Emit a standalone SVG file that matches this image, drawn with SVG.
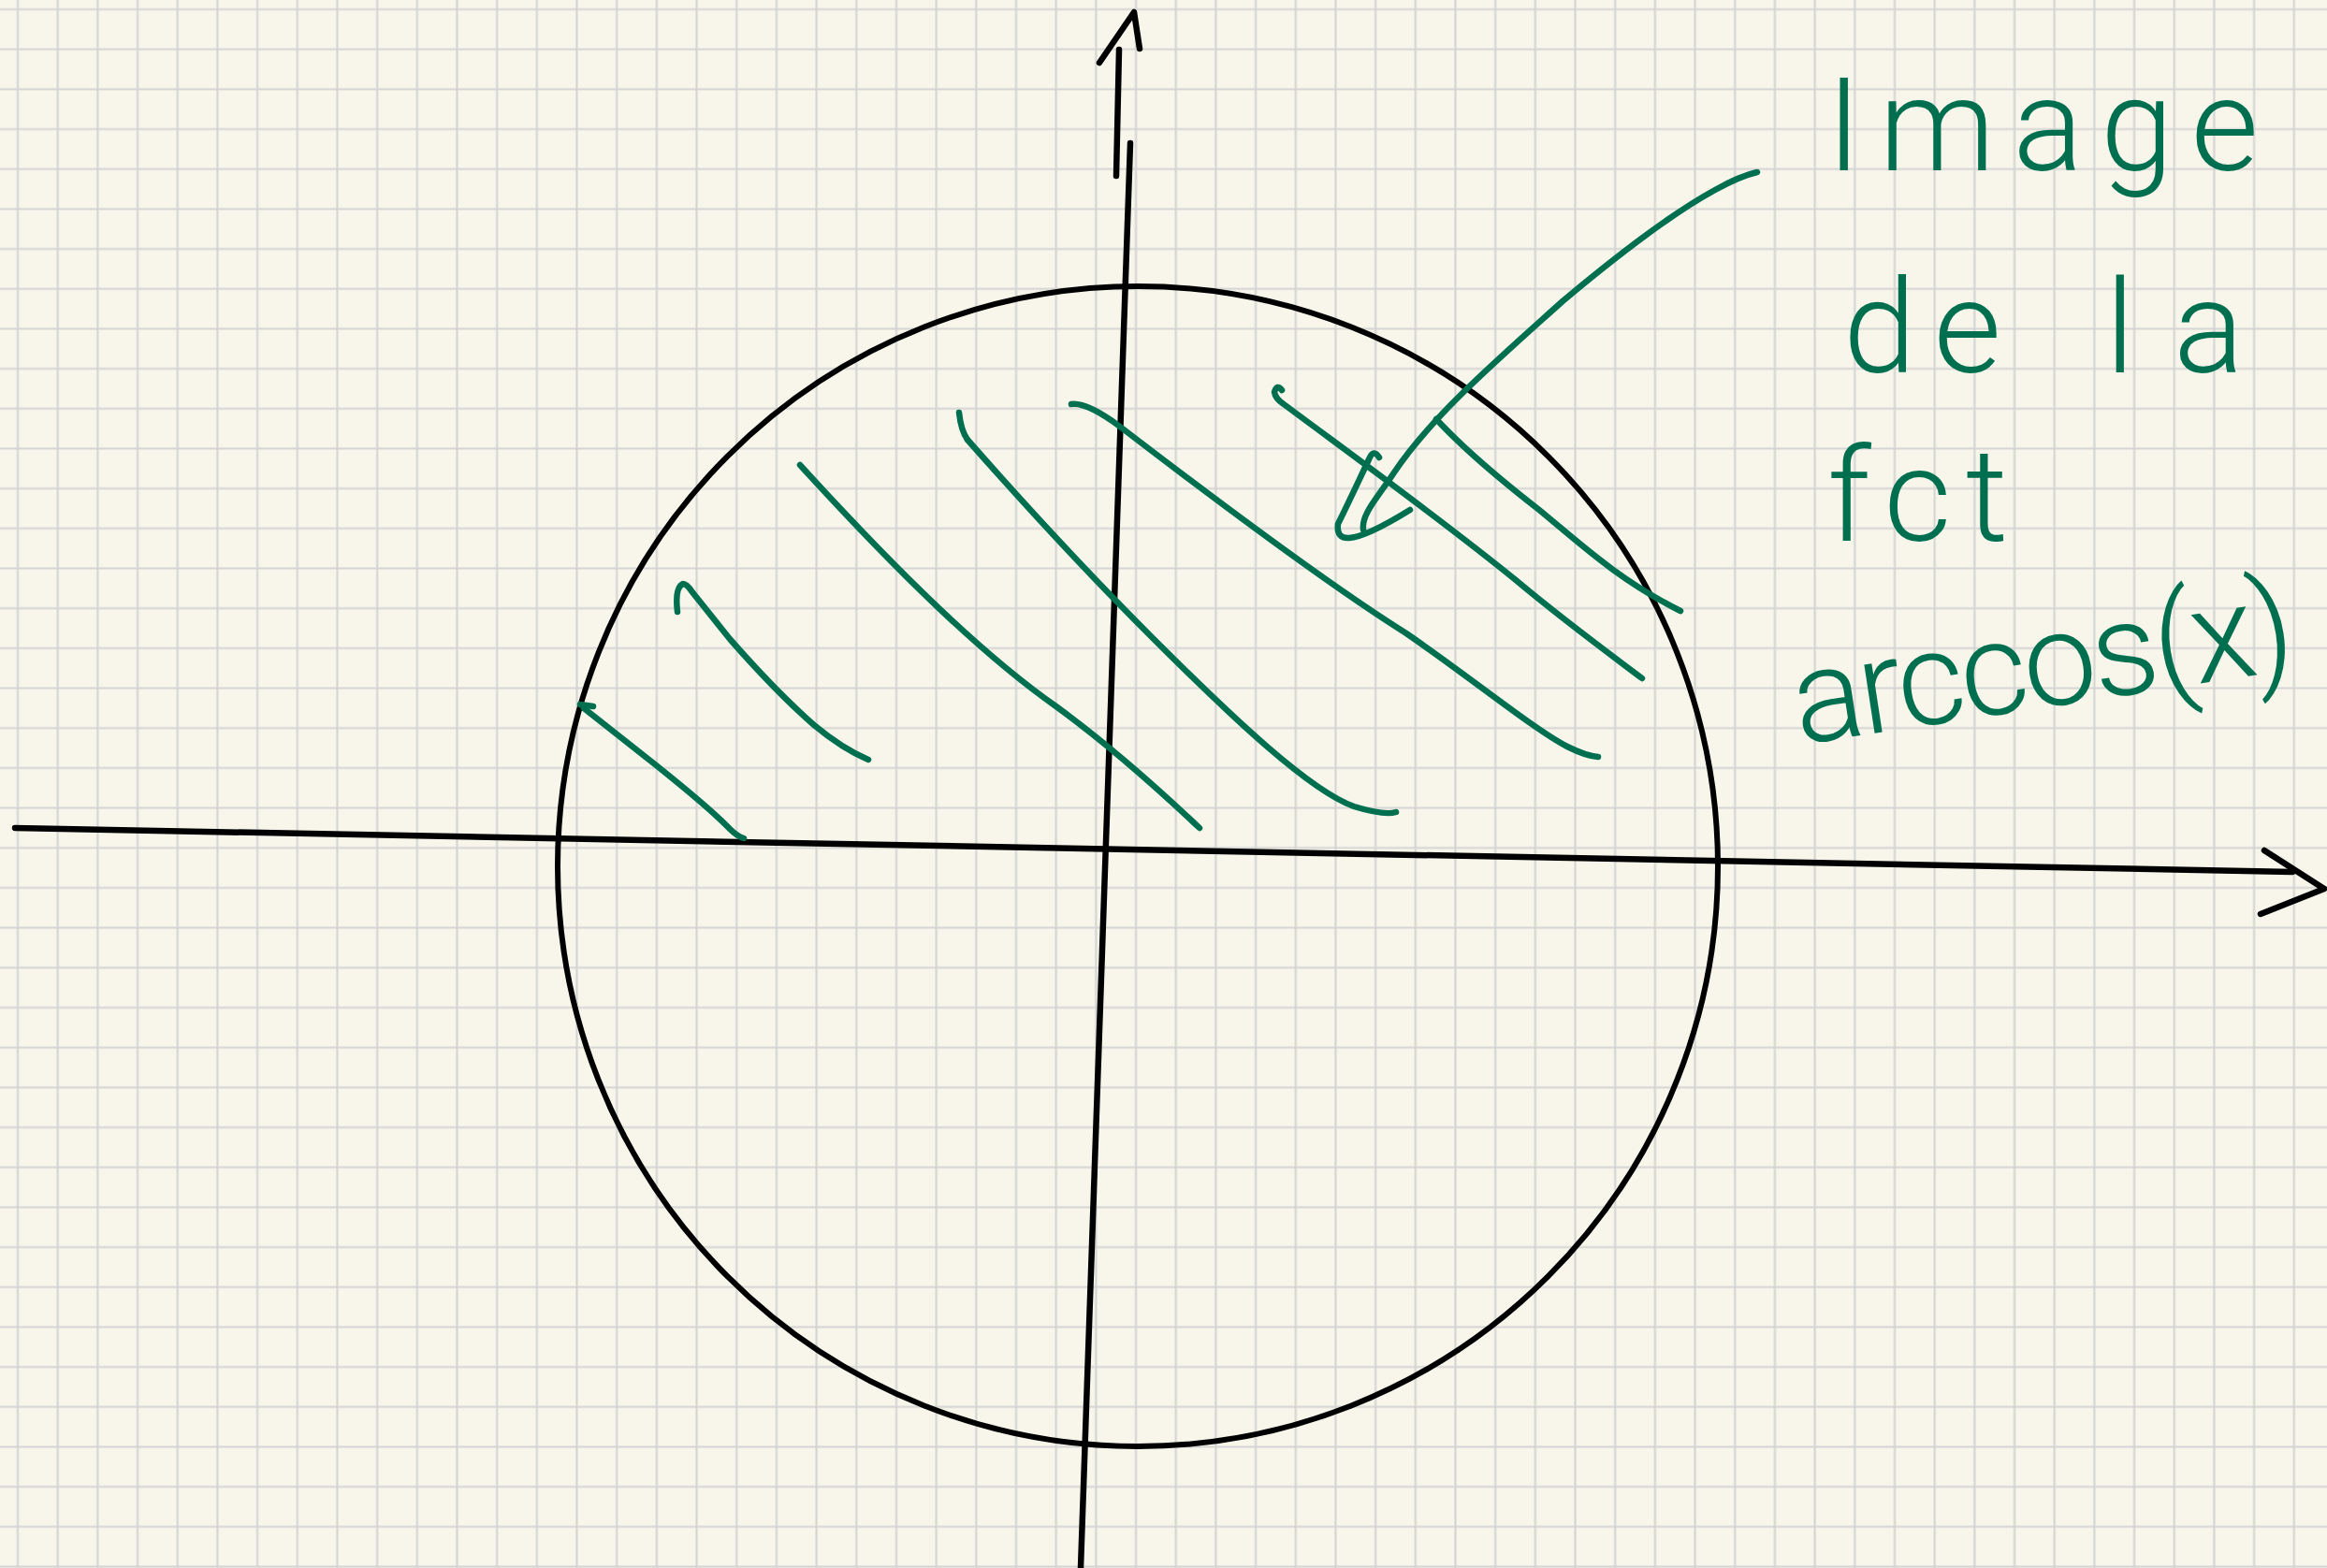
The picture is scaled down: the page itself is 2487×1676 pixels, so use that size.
<svg xmlns="http://www.w3.org/2000/svg" width="2487" height="1676" viewBox="0 0 2487 1676">
  <defs>
    <pattern id="grid" patternUnits="userSpaceOnUse" x="-2.34" y="-11.34" width="42.68" height="42.68">
      <path d="M21.34 0 V42.68 M0 21.34 H42.68" stroke="#d4d4d4" stroke-width="2.2" fill="none"/>
    </pattern>
    <style>
      .ink { fill: none; stroke: #000; stroke-width: 6.5; stroke-linecap: round; stroke-linejoin: round; }
      .circ { fill: none; stroke: #000; stroke-width: 6; }
      .green { fill: none; stroke: #006f4f; stroke-width: 6.5; stroke-linecap: round; stroke-linejoin: round; }
      .hand { fill: #006f4f; font-family: Roboto, "Liberation Sans", "DejaVu Sans", sans-serif; font-weight: 300; font-size: 140px; }
    </style>
  </defs>

  <g id="paper">
    <rect x="0" y="0" width="2487" height="1676" fill="#f8f6ea"/>
    <rect x="0" y="0" width="2487" height="1676" fill="url(#grid)"/>
  </g>

  <g id="circle">
    <circle class="circ" cx="1216" cy="926" r="620"/>
  </g>

  <g id="axes">
    <path id="x-axis" class="ink" d="M16,885 L2450,932"/>
    <path id="x-arrow" class="ink" d="M2420,909 L2484,950 L2416,977"/>
    <path id="y-axis" class="ink" d="M1208,153 L1155,1676"/>
    <path id="y-axis-top" class="ink" d="M1196,53 L1193,188"/>
    <path id="y-arrow" class="ink" d="M1175,67 L1212,13 L1218,52"/>
  </g>

  <g id="hatching">
    <path class="green" stroke-width="8" d="M620,753 L634,755"/>
    <path class="green" d="M624,757 L700,817 Q760,865 780,886 Q788,894 795,896"/>
    <path class="green" d="M724,654 Q721,628 730,624 Q734,624 740,633 L780,683 Q830,740 870,775 Q900,800 928,812"/>
    <path class="green" d="M855,497 C960,612 1050,700 1130,756 C1190,800 1245,850 1282,885"/>
    <path class="green" stroke-width="10" d="M1025,441 Q1027,460 1034,470"/>
    <path class="green" d="M1034,470 C1100,545 1160,610 1230,680 C1320,770 1400,845 1447,862 Q1480,872 1492,868"/>
    <path class="green" d="M1145,432 Q1162,430 1197,456 C1300,535 1420,625 1503,677 C1570,723 1640,780 1675,798 Q1695,808 1708,809"/>
    <path class="green" d="M1370,417 Q1365,410 1362,419 Q1363,426 1372,432 C1450,490 1540,555 1620,620 C1670,662 1715,695 1755,725"/>
    <path class="green" d="M1535,448 C1560,475 1600,510 1645,545 C1690,582 1730,620 1796,653"/>
  </g>

  <g id="pointer">
    <path class="green" d="M1878,184 Q1860,188 1833,203 C1780,232 1720,280 1670,322 C1600,385 1530,445 1490,505 C1470,535 1455,550 1457,566"/>
    <path class="green" d="M1474,489 Q1468,479 1463,491 Q1440,540 1430,560 Q1428,576 1442,575 Q1460,574 1507,545"/>
  </g>

  <g id="label">
    <text class="hand" x="1952" y="182" textLength="462" lengthAdjust="spacing">Image</text>
    <text class="hand" y="398"><tspan x="1970" textLength="169" lengthAdjust="spacing">de</tspan><tspan x="2250" textLength="148" lengthAdjust="spacing">la</tspan></text>
    <text class="hand" x="1953" y="578" textLength="193" lengthAdjust="spacing">fct</text>
    <text class="hand" x="1923" y="796" font-size="145" textLength="540" lengthAdjust="spacing" transform="rotate(-8.7 1923 796)">arccos(x)</text>
  </g>
</svg>
